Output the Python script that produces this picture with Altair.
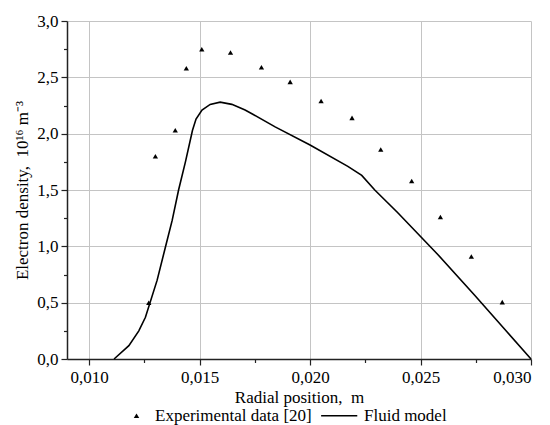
import altair as alt
import pandas as pd

# Experimental data [20]
exp_x = [0.0127, 0.0130, 0.0139, 0.0144, 0.0151, 0.0164, 0.0178, 0.0191,
         0.0205, 0.0219, 0.0232, 0.0246, 0.0259, 0.0273, 0.0287]
exp_y = [0.50, 1.80, 2.03, 2.58, 2.75, 2.72, 2.59, 2.46,
         2.29, 2.14, 1.86, 1.58, 1.26, 0.91, 0.505]

# Fluid model
fm_x = [0.01113, 0.0118, 0.01225, 0.01255, 0.01308, 0.01345, 0.01376,
        0.01405, 0.01436, 0.01468, 0.01484, 0.01511, 0.01548, 0.01593, 0.01646,
        0.01706, 0.01743, 0.01842, 0.0200, 0.02171, 0.02234, 0.02293, 0.02396,
        0.02577, 0.02743, 0.02892, 0.0300]
fm_y = [0.0, 0.118, 0.25, 0.37, 0.70, 0.99, 1.23,
        1.50, 1.75, 2.03, 2.13, 2.21, 2.26, 2.28, 2.26,
        2.21, 2.17, 2.06, 1.90, 1.71, 1.63, 1.50, 1.30,
        0.93, 0.57, 0.24, 0.0]

series_names = ["Experimental data [20]", "Fluid model"]
x_ticks = [0.0100, 0.0125, 0.0150, 0.0175, 0.0200, 0.0225, 0.0250, 0.0275, 0.0300]
y_ticks = [0.0, 0.25, 0.5, 0.75, 1.0, 1.25, 1.5, 1.75, 2.0, 2.25, 2.5, 2.75, 3.0]

exp_df = pd.DataFrame({"x": exp_x, "y": exp_y, "series": series_names[0]})
fm_df = pd.DataFrame({"x": fm_x, "y": fm_y, "series": series_names[1]})

FONT = "Liberation Serif"
NB = "\u00a0"
x_major = "abs(datum.value*200-round(datum.value*200))<0.01"
y_major = "abs(datum.value*2-round(datum.value*2))<0.01"

x_scale = alt.Scale(domain=[0.009, 0.030], nice=False, zero=False)
y_scale = alt.Scale(domain=[0, 3.0], nice=False)

x_axis = alt.Axis(
    title=f"Radial position,{NB}{NB}m", values=x_ticks,
    labelExpr=f"{x_major} ? replace(format(datum.value,'.3f'),'.',',') : ''",
    tickSize={"condition": {"test": x_major, "value": 6}, "value": 3.5},
    gridOpacity={"condition": {"test": x_major, "value": 1}, "value": 0},
    labelPadding=4, titlePadding=4,
)
y_axis = alt.Axis(
    title=f"Electron density,{NB}{NB}10¹⁶{NB}m⁻³", values=y_ticks,
    labelExpr=f"{y_major} ? replace(format(datum.value,'.1f'),'.',',') : ''",
    tickSize={"condition": {"test": y_major, "value": 6}, "value": 3.5},
    gridOpacity={"condition": {"test": y_major, "value": 1}, "value": 0},
    labelPadding=3, titlePadding=5,
)

line = alt.Chart(fm_df).mark_line(color="black", strokeWidth=1.6).encode(
    x=alt.X("x:Q", scale=x_scale, axis=x_axis),
    y=alt.Y("y:Q", scale=y_scale, axis=y_axis),
)

line_symbol = "M-8.9,-0.28L4.3,-0.28L4.3,0.28L-8.9,0.28Z"

points = alt.Chart(exp_df).mark_point(filled=True, color="black", size=28, opacity=1).encode(
    x=alt.X("x:Q", scale=x_scale, axis=x_axis),
    y=alt.Y("y:Q", scale=y_scale, axis=y_axis),
    shape=alt.Shape(
        "series:N",
        scale=alt.Scale(domain=series_names, range=["triangle-up", line_symbol]),
        legend=alt.Legend(
            title=None, orient="none", direction="horizontal",
            legendX=61, legendY=386,
            symbolSize=30, symbolFillColor="black", symbolOpacity=1,
            labelOffset=10, columnPadding=6,
            labelFont=FONT, labelFontSize=17, labelColor="black",
        ),
    ),
)

chart = alt.layer(line, points).properties(
    width=464, height=338,
    autosize=alt.AutoSizeParams(type="none"),
    padding={"left": 67, "top": 21, "right": 19, "bottom": 66},
    background="white",
).configure_view(stroke=None).configure_axis(
    labelFont=FONT, titleFont=FONT, labelFontSize=17, titleFontSize=17,
    labelColor="black", titleColor="black", titleFontWeight="normal",
    domainColor="#222222", domainWidth=1.5, tickColor="#222222", tickWidth=1.2,
    gridColor="#c4c4c4", gridWidth=1,
)

chart.save("out.html", embed_options={"renderer": "svg", "actions": False})
